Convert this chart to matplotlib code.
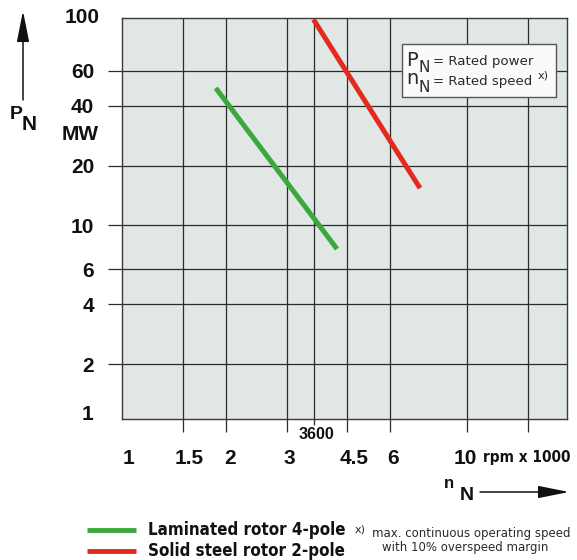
import matplotlib
matplotlib.use('Agg')
import matplotlib.pyplot as plt
from matplotlib.lines import Line2D
from matplotlib.patches import Rectangle, FancyArrowPatch
from matplotlib import font_manager as fm

# ---------------- data ----------------
laminated_rpm = [1.87, 4.20]      # rpm x 1000
laminated_mw = [49.2, 7.6]        # MW
solid_rpm = [3.59, 7.31]
solid_mw = [109.0, 15.4]
series_names = ['Laminated rotor 4-pole', 'Solid steel rotor 2-pole']
series_colors = ['#3ca83a', '#e42a1f']

x_grid = [1.5, 2, 3, 3.6, 4.5, 6, 10, 15]
x_tick_values = [1, 1.5, 2, 3, 4.5, 6, 10]
x_tick_labels = ['1', '1.5', '2', '3', '4.5', '6', '10']
x_unit_value = 15
x_unit_label = 'rpm x 1000'
x_marker_value = 3.6
x_marker_label = '3600'
y_grid = [2, 4, 6, 10, 20, 40, 60]
y_tick_labels = ['2', '4', '6', '10', '20', '40', '60']
y_bottom_label = '1'
y_top_label = '100'
x_lim = (1.0, 19.5)
y_lim = (1.057, 110.9)

# ---------------- fonts ----------------
def _has_condensed():
    try:
        p = fm.findfont(fm.FontProperties(family='DejaVu Sans', stretch='condensed', weight='bold'),
                        fallback_to_default=False)
        return 'ondensed' in p
    except Exception:
        return False

BOLD = dict(family=['Liberation Sans', 'DejaVu Sans'], fontweight='bold')
if _has_condensed():
    NARROW = dict(family=['DejaVu Sans'], fontweight='bold', fontstretch='condensed')
    LEG_FS, UNIT_FS = 12.2, 11
else:
    NARROW = dict(family=['Liberation Sans', 'DejaVu Sans'], fontweight='bold')
    LEG_FS, UNIT_FS = 12.7, 11.5
THINF = dict(family=['DejaVu Sans'], fontweight='normal')
GRID = '#2b2b2b'
INK = '#111111'
THIN = '#2a2a2a'

# ---------------- figure ----------------
W, H = 577, 560
fig = plt.figure(figsize=(W / 100, H / 100), dpi=100)
fig.patch.set_facecolor('white')

def fx(px):
    return px / W

def fy(py):
    return 1 - py / H

ax = fig.add_axes([fx(122), fy(419), 445 / W, 401 / H])
ax.set_xscale('log')
ax.set_yscale('log')
ax.set_xlim(*x_lim)
ax.set_ylim(*y_lim)
ax.set_facecolor('#e0e7e4')
ax.set_axisbelow(True)

ax.set_xticks(x_grid)
ax.set_xticks([], minor=True)
ax.set_yticks(y_grid)
ax.set_yticks([], minor=True)
ax.set_yticklabels(y_tick_labels, fontsize=15, **BOLD)
ax.tick_params(axis='y', direction='out', length=10, width=0.9, color=GRID, pad=10, labelcolor=INK)
ax.tick_params(axis='x', direction='out', length=9.5, width=0.9, color=GRID, labelbottom=False)
for t, v in zip(ax.xaxis.get_major_ticks(), x_grid):
    if v == x_marker_value:
        t.tick1line.set_markersize(4.5)
ax.grid(True, which='major', color=GRID, lw=0.9)
for s in ax.spines.values():
    s.set_color('#3a3a3a')
    s.set_linewidth(1.0)

ax.plot(laminated_rpm, laminated_mw, color=series_colors[0], lw=3.6, solid_capstyle='butt', zorder=3)
ax.plot(solid_rpm, solid_mw, color=series_colors[1], lw=3.6, solid_capstyle='butt', zorder=3)

# x labels (small horizontal nudges in points, as printed)
nudges = [5, 5, 3, 2, 5, 2, -1.5]
for v, lab, dx in zip(x_tick_values, x_tick_labels, nudges):
    ax.annotate(lab, xy=(v, 0), xycoords=('data', 'axes fraction'), xytext=(dx, -28.5),
                textcoords='offset points', ha='center', va='center', fontsize=15, color=INK, **BOLD)
ax.annotate(x_unit_label, xy=(x_unit_value, 0), xycoords=('data', 'axes fraction'), xytext=(-0.5, -28),
            textcoords='offset points', ha='center', va='center', fontsize=UNIT_FS, color=INK, **NARROW)
ax.annotate(x_marker_label, xy=(x_marker_value, 0), xycoords=('data', 'axes fraction'), xytext=(2, -11.5),
            textcoords='offset points', ha='center', va='center', fontsize=11.5, color=INK, **BOLD)

# y end labels
ax.annotate(y_top_label, xy=(0, 1), xycoords='axes fraction', xytext=(-15.8, 0.5),
            textcoords='offset points', ha='right', va='center', fontsize=15, color=INK, **BOLD)
ax.annotate(y_bottom_label, xy=(0, 0), xycoords='axes fraction', xytext=(-20.5, 3),
            textcoords='offset points', ha='right', va='center', fontsize=15, color=INK, **BOLD)
fig.text(fx(80), fy(135), 'MW', ha='center', va='center', fontsize=15, color=INK, **BOLD)

# axis titles with arrows
fig.add_artist(FancyArrowPatch((fx(23), fy(100)), (fx(23), fy(11)), transform=fig.transFigure,
                               arrowstyle='-|>,head_length=1.9,head_width=0.38', mutation_scale=10,
                               color=INK, lw=1.1, shrinkA=0, shrinkB=0))
fig.text(fx(16), fy(115), 'P', ha='center', va='center', fontsize=14, color=INK, **BOLD)
fig.text(fx(29.5), fy(124), 'N', ha='center', va='center', fontsize=15, color=INK, **BOLD)

fig.add_artist(FancyArrowPatch((fx(480), fy(492)), (fx(569), fy(492)), transform=fig.transFigure,
                               arrowstyle='-|>,head_length=1.9,head_width=0.38', mutation_scale=10,
                               color=INK, lw=1.1, shrinkA=0, shrinkB=0))
fig.text(fx(449), fy(484), 'n', ha='center', va='center', fontsize=12, color=INK, **BOLD)
fig.text(fx(467), fy(495), 'N', ha='center', va='center', fontsize=14, color=INK, **BOLD)

# info box inside the plot
fig.add_artist(Rectangle((fx(402), fy(97)), (556 - 402) / W, (97 - 44) / H, transform=fig.transFigure,
                         facecolor='#fafafa', edgecolor='#555555', lw=1.0, zorder=5))
fig.text(fx(412), fy(60), 'P', ha='center', va='center', fontsize=14, color=THIN, zorder=6, **THINF)
fig.text(fx(424), fy(67), 'N', ha='center', va='center', fontsize=11, color=THIN, zorder=6, **THINF)
fig.text(fx(433), fy(62), '= Rated power', ha='left', va='center', fontsize=9.6, color=THIN, zorder=6, **THINF)
fig.text(fx(412), fy(79), 'n', ha='center', va='center', fontsize=14, color=THIN, zorder=6, **THINF)
fig.text(fx(424), fy(87), 'N', ha='center', va='center', fontsize=11, color=THIN, zorder=6, **THINF)
fig.text(fx(433), fy(82), '= Rated speed', ha='left', va='center', fontsize=9.6, color=THIN, zorder=6, **THINF)
fig.text(fx(538), fy(75), 'x)', ha='left', va='center', fontsize=8, color=THIN, zorder=6, **THINF)

# legend below
for i, (name, col) in enumerate(zip(series_names, series_colors)):
    yy = [530, 551][i]
    fig.add_artist(Line2D([fx(87), fx(136)], [fy(yy), fy(yy)], transform=fig.transFigure,
                          color=col, lw=3.5, solid_capstyle='butt'))
    fig.text(fx(148), fy(yy), name, ha='left', va='center', fontsize=LEG_FS, color=INK, **NARROW)

fig.text(fx(355), fy(529), 'x)', ha='left', va='center', fontsize=8, color=THIN, **THINF)
fig.text(fx(372), fy(533), 'max. continuous operating speed', ha='left', va='center', fontsize=8.5,
         color=THIN, **THINF)
fig.text(fx(382), fy(547), 'with 10% overspeed margin', ha='left', va='center', fontsize=8.5,
         color=THIN, **THINF)

fig.savefig('out.png', dpi=100)
